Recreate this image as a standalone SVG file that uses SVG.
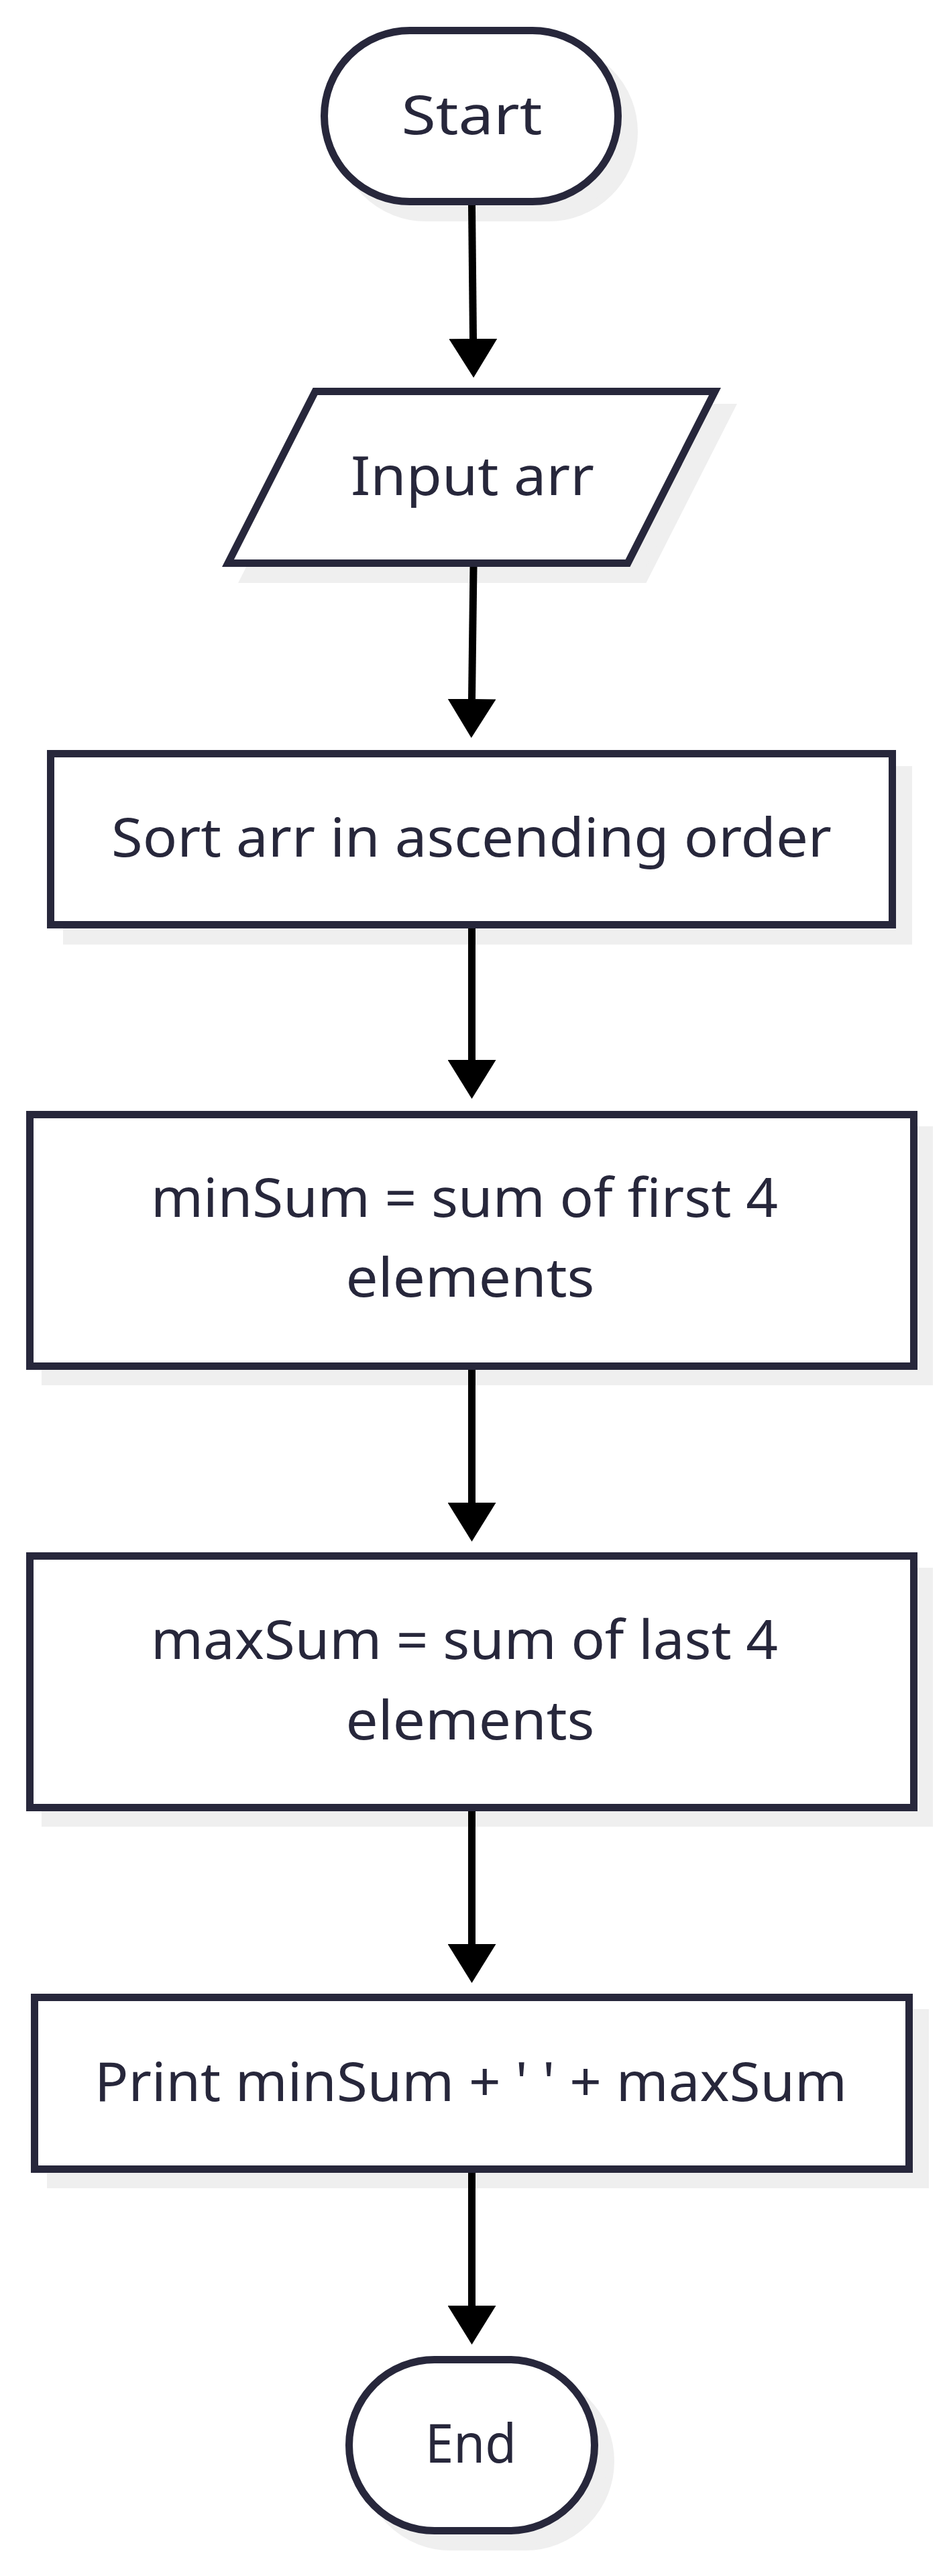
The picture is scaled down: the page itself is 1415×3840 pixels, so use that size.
<svg xmlns="http://www.w3.org/2000/svg" width="1415" height="3840" viewBox="0 0 1415 3840">
<style>
.bg{fill:#ffffff}
.sh{fill:#efefef;stroke:#efefef;stroke-width:11}
.nd{fill:#ffffff;stroke:#27273b;stroke-width:11}
.tx{font-family:"Noto Sans","Open Sans","DejaVu Sans",sans-serif;font-size:80px;fill:#27273b;text-anchor:middle}
.cn{stroke:#000000;stroke-width:11;fill:none}
</style>
<defs>
<marker id="ah" markerUnits="userSpaceOnUse" markerWidth="58" markerHeight="72" viewBox="0 0 58 72" refX="0" refY="36" orient="auto">
<path d="M0,0 L58,36 L0,72 z" fill="#000000"/>
</marker>
</defs>
<rect class="bg" x="0" y="0" width="1415" height="3840"/>
<g id="start">
<rect class="sh" x="507.5" y="69.5" width="438" height="255" rx="127.5"/>
<rect class="nd" x="483.5" y="45.5" width="438" height="255" rx="127.5"/>
<text class="tx" x="703.5" y="200" textLength="210" lengthAdjust="spacingAndGlyphs">Start</text>
</g>
<g id="input">
<polygon class="sh" points="494,607.5 1090,607.5 960,863.5 364,863.5"/>
<polygon class="nd" points="470,583.5 1066,583.5 936,839.5 340,839.5"/>
<text class="tx" x="704.5" y="738" textLength="363" lengthAdjust="spacingAndGlyphs">Input arr</text>
</g>
<g id="sort">
<rect class="sh" x="99.5" y="1147.5" width="1255" height="255"/>
<rect class="nd" x="75.5" y="1123.5" width="1255" height="255"/>
<text class="tx" x="703" y="1277" textLength="1074" lengthAdjust="spacingAndGlyphs">Sort arr in ascending order</text>
</g>
<g id="minsum">
<rect class="sh" x="67.5" y="1684.5" width="1318" height="375"/>
<rect class="nd" x="44.5" y="1661.5" width="1318" height="375"/>
<text class="tx" x="692.5" y="1814" textLength="935" lengthAdjust="spacingAndGlyphs">minSum = sum of first 4</text>
<text class="tx" x="701" y="1933" textLength="371" lengthAdjust="spacingAndGlyphs">elements</text>
</g>
<g id="maxsum">
<rect class="sh" x="67.5" y="2342.5" width="1318" height="375"/>
<rect class="nd" x="44.5" y="2319.5" width="1318" height="375"/>
<text class="tx" x="692.5" y="2473" textLength="935" lengthAdjust="spacingAndGlyphs">maxSum = sum of last 4</text>
<text class="tx" x="701" y="2593" textLength="371" lengthAdjust="spacingAndGlyphs">elements</text>
</g>
<g id="print">
<rect class="sh" x="75.5" y="3000.5" width="1304" height="256"/>
<rect class="nd" x="51.5" y="2977.5" width="1304" height="256"/>
<text class="tx" x="702" y="3132" textLength="1122" lengthAdjust="spacingAndGlyphs">Print minSum + ' ' + maxSum</text>
</g>
<g id="end">
<rect class="sh" x="544.5" y="3541.5" width="366" height="255" rx="127.5"/>
<rect class="nd" x="520.5" y="3517.5" width="366" height="255" rx="127.5"/>
<text class="tx" x="702" y="3671" textLength="136" lengthAdjust="spacingAndGlyphs">End</text>
</g>
<g id="connectors">
<line class="cn" x1="703.5" y1="306" x2="705.5" y2="505" marker-end="url(#ah)"/>
<line class="cn" x1="706" y1="845" x2="703.5" y2="1042" marker-end="url(#ah)"/>
<line class="cn" x1="703.5" y1="1384" x2="703.5" y2="1580" marker-end="url(#ah)"/>
<line class="cn" x1="703.5" y1="2042" x2="703.5" y2="2240" marker-end="url(#ah)"/>
<line class="cn" x1="703.5" y1="2700" x2="703.5" y2="2898" marker-end="url(#ah)"/>
<line class="cn" x1="703.5" y1="3239" x2="703.5" y2="3437" marker-end="url(#ah)"/>
</g>
</svg>
